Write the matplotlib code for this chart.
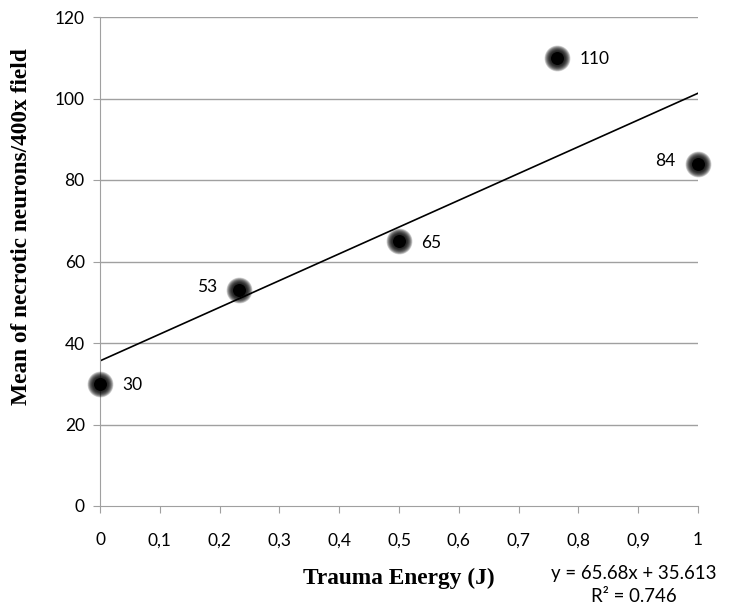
import matplotlib
matplotlib.use("Agg")
import matplotlib.pyplot as plt
import numpy as np

energy = [0.0, 0.233, 0.5, 0.765, 1.0]
neurons = [30, 53, 65, 110, 84]
labels = ["30", "53", "65", "110", "84"]
label_side = ["right", "left", "right", "right", "left"]
slope, intercept = 65.68, 35.613
r2 = 0.746
xticks = [0, 0.1, 0.2, 0.3, 0.4, 0.5, 0.6, 0.7, 0.8, 0.9, 1.0]
xticklabels = ["0", "0,1", "0,2", "0,3", "0,4", "0,5", "0,6", "0,7", "0,8", "0,9", "1"]
yticks = [0, 20, 40, 60, 80, 100, 120]

tickfont = "Lato"
fig = plt.figure(figsize=(7.33, 6.08), dpi=100)
ax = fig.add_axes([100/733, 1-506/608, 598/733, 489/608])
ax.set_xlim(0, 1)
ax.set_ylim(0, 120)

for y in yticks[1:]:
    ax.axhline(y, color="#a0a0a0", lw=1.0, zorder=1)

# trend line
xs = np.array([0, 1])
ax.plot(xs, slope*xs + intercept, color="black", lw=1.2, zorder=2)

# fuzzy markers: layered discs
diams = np.linspace(26, 15, 12)  # px
for d in diams:
    s = (d * 0.72) ** 2
    ax.scatter(energy, neurons, s=s, color="black", alpha=0.14, lw=0, zorder=3, clip_on=False)
ax.scatter(energy, neurons, s=(13*0.72)**2, color="black", lw=0, zorder=4, clip_on=False)

for x, y, t, side in zip(energy, neurons, labels, label_side):
    if side == "right":
        ax.annotate(t, (x, y), xytext=(16, -1), textcoords="offset points", ha="left", va="center",
                    fontsize=12.5, family=tickfont)
    else:
        ax.annotate(t, (x, y), xytext=(-16, 2), textcoords="offset points", ha="right", va="center",
                    fontsize=12.5, family=tickfont)

ax.set_xticks(xticks)
ax.set_xticklabels(xticklabels, family=tickfont, fontsize=12.5)
ax.set_yticks(yticks)
ax.set_yticklabels([str(v) for v in yticks], family=tickfont, fontsize=12.5)
ax.tick_params(axis="x", length=5, color="#a0a0a0", pad=14)
ax.tick_params(axis="y", length=5, color="#a0a0a0", pad=6)

for sp in ["top", "right"]:
    ax.spines[sp].set_visible(False)
for sp in ["left", "bottom"]:
    ax.spines[sp].set_color("#a0a0a0")

fig.text(399/733, 1-578/608, "Trauma Energy (J)", family="Liberation Serif", fontweight="bold",
         fontsize=16.8, ha="center", va="center")
fig.text(22/733, 1-227/608, "Mean of necrotic neurons/400x field", family="Liberation Serif",
         fontweight="bold", fontsize=16.8, ha="center", va="center", rotation=90)

fig.text(634/733, 1-573/608, "y = 65.68x + 35.613", ha="center", va="center", family=tickfont, fontsize=13.4)
fig.text(634/733, 1-596/608, "R² = 0.746", ha="center", va="center", family=tickfont, fontsize=13.4)

fig.savefig("out.png", dpi=100, facecolor="white")
